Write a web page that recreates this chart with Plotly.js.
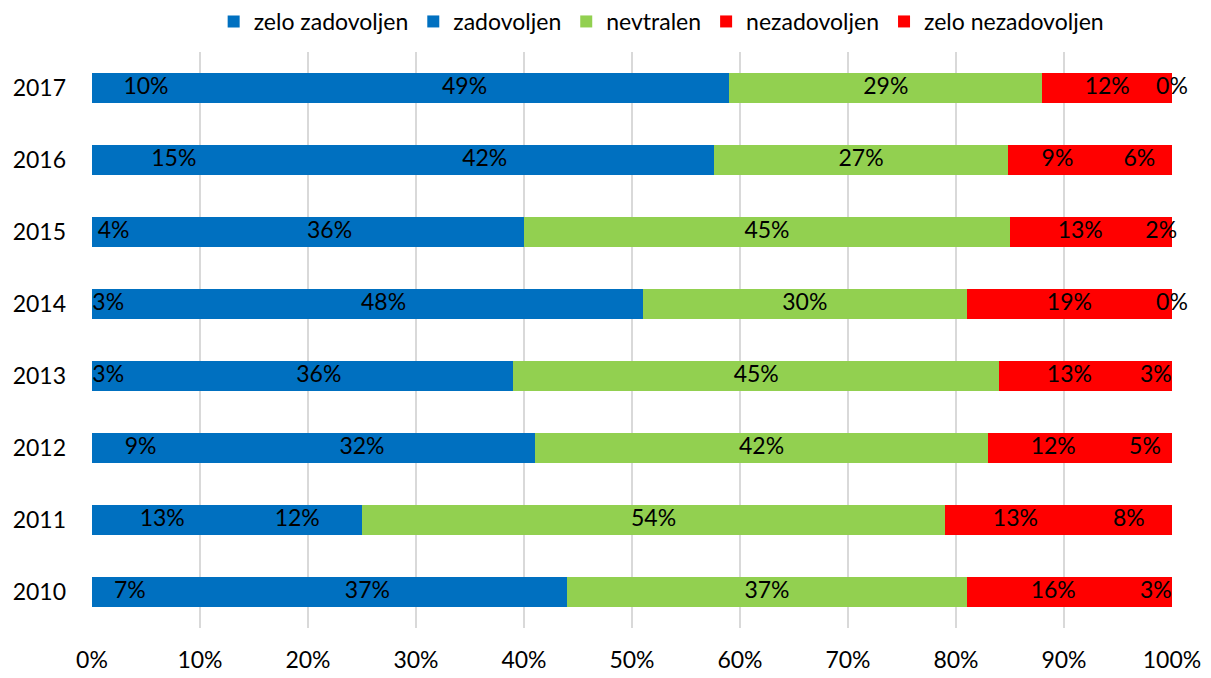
<!DOCTYPE html>
<html>
<head>
<meta charset="utf-8">
<script src="https://cdn.plot.ly/plotly-3.0.1.min.js"></script>
<style>html,body{margin:0;padding:0;background:#fff;}#chart{width:1211px;height:678px;}</style>
</head>
<body>
<div id="chart"></div>
<script>
const years = ["2010","2011","2012","2013","2014","2015","2016","2017"];
const seriesNames = ["zelo zadovoljen","zadovoljen","nevtralen","nezadovoljen","zelo nezadovoljen"];
const zeloZadovoljen   = [7, 13, 9, 3, 3, 4, 15, 10];
const zadovoljen       = [37, 12, 32, 36, 48, 36, 42, 49];
const nevtralen        = [37, 54, 42, 45, 30, 45, 27, 29];
const nezadovoljen     = [16, 13, 12, 13, 19, 13, 9, 12];
const zeloNezadovoljen = [3, 8, 5, 3, 0, 2, 6, 0];
const tickVals = [0,10,20,30,40,50,60,70,80,90,100];
const tickText = ["0%","10%","20%","30%","40%","50%","60%","70%","80%","90%","100%"];

const seriesValues = [zeloZadovoljen, zadovoljen, nevtralen, nezadovoljen, zeloNezadovoljen];
const colors = ["#0070C0","#0070C0","#92D050","#FF0000","#FF0000"];
const FONT = "Lato, 'Open Sans', sans-serif";
const FS = 23;

const totals = years.map((_, i) => seriesValues.reduce((s, arr) => s + arr[i], 0));

const traces = seriesValues.map((vals, k) => ({
  type: "bar",
  orientation: "h",
  name: seriesNames[k],
  y: years,
  x: vals.map((v, i) => v / totals[i] * 100),
  marker: { color: colors[k], line: { width: 0 } },
  hoverinfo: "skip",
  textposition: "none"
}));

// label trace: centers of each segment
const lx = [], ly = [], lt = [];
years.forEach((yr, i) => {
  let cum = 0;
  seriesValues.forEach(vals => {
    const w = vals[i] / totals[i] * 100;
    lx.push(cum + w / 2);
    ly.push(yr);
    lt.push(vals[i] + "%");
    cum += w;
  });
});
traces.push({
  type: "scatter",
  mode: "text",
  x: lx, y: ly, text: lt,
  textposition: "middle center",
  textfont: { family: FONT, size: FS, color: "#000" },
  showlegend: false,
  hoverinfo: "skip",
  cliponaxis: false
});

const layout = {
  width: 1211, height: 678,
  margin: { l: 92, r: 39, t: 52, b: 50 },
  paper_bgcolor: "#fff", plot_bgcolor: "#fff",
  barmode: "stack",
  bargap: 0.58,
  font: { family: FONT, size: FS, color: "#000" },
  showlegend: true,
  legend: {
    orientation: "h", x: 0.527, xanchor: "center", y: 1.0, yanchor: "top",
    yref: "container",
    font: { family: FONT, size: FS, color: "#000" },
    itemwidth: 30, traceorder: "normal", tracegroupgap: 0
  },
  xaxis: {
    range: [0, 100], tickvals: tickVals, ticktext: tickText,
    showgrid: true, gridcolor: "#D9D9D9", gridwidth: 2,
    zeroline: false, showline: false, ticks: "",
    ticklabelstandoff: 16,
    tickfont: { family: FONT, size: FS, color: "#000" }, fixedrange: true
  },
  yaxis: {
    type: "category", categoryorder: "array", categoryarray: years,
    range: [-0.5, 7.5],
    showgrid: false, zeroline: false, showline: false, ticks: "",
    ticklabelstandoff: 25,
    tickfont: { family: FONT, size: FS, color: "#000" }, fixedrange: true
  }
};

Plotly.newPlot("chart", traces, layout, { displayModeBar: false, staticPlot: true });
</script>
</body>
</html>
